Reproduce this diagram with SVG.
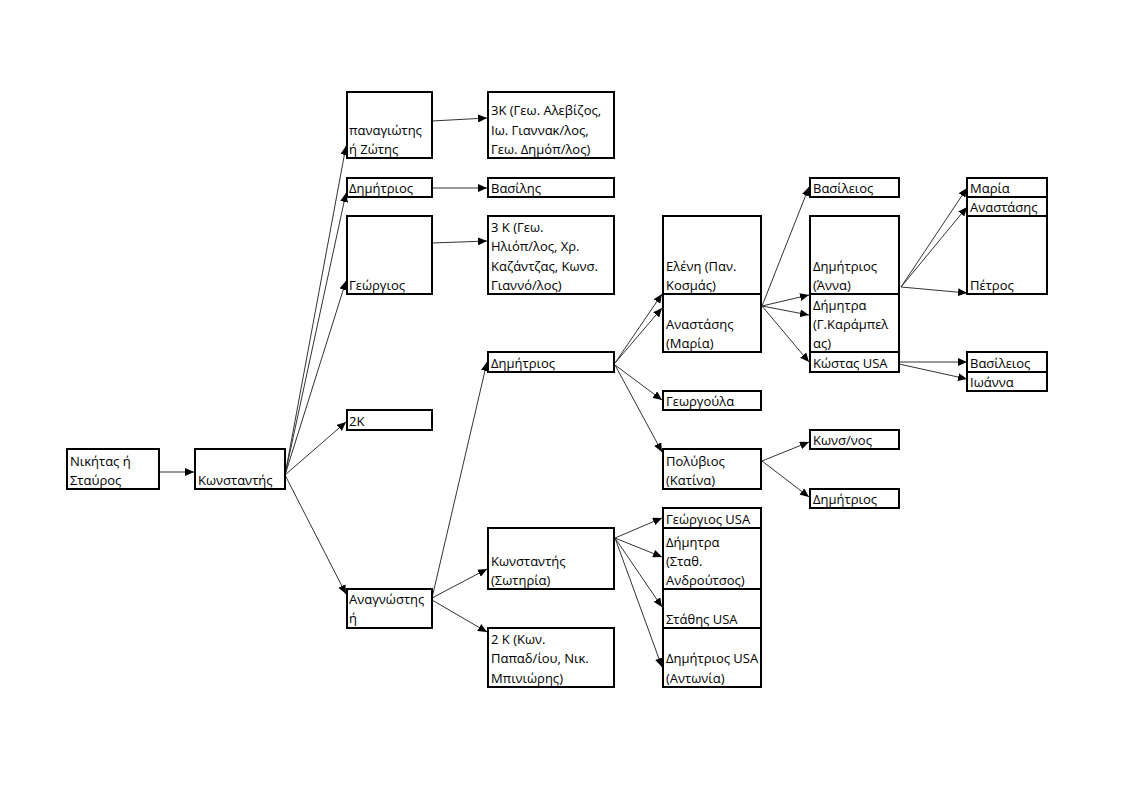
<svg xmlns="http://www.w3.org/2000/svg" width="1122" height="794" viewBox="0 0 1122 794">
<defs>
<marker id="arr" markerUnits="userSpaceOnUse" markerWidth="10" markerHeight="8" refX="9" refY="4" orient="auto">
<path d="M0,0 L9,4 L0,8 z" fill="#000"/>
</marker>
<style>
rect{fill:#fff;stroke:#000;stroke-width:2}
text{font-family:"Open Sans","Noto Sans","DejaVu Sans",sans-serif;font-size:13px;fill:#000}
#connectors line{stroke:#333;stroke-width:1;marker-end:url(#arr)}
</style>
</defs>
<rect x="0" y="0" width="1122" height="794" style="stroke:none"/>
<g id="connectors">
<line x1="157" y1="472" x2="194" y2="472"/>
<line x1="285" y1="475" x2="346" y2="146"/>
<line x1="285" y1="475" x2="346" y2="193"/>
<line x1="285" y1="475" x2="346" y2="281"/>
<line x1="285" y1="475" x2="346" y2="422"/>
<line x1="285" y1="475" x2="346" y2="594"/>
<line x1="432" y1="121" x2="487" y2="118"/>
<line x1="432" y1="188" x2="487" y2="188"/>
<line x1="432" y1="243" x2="487" y2="241"/>
<line x1="432" y1="598" x2="487" y2="362"/>
<line x1="432" y1="598" x2="487" y2="569"/>
<line x1="432" y1="600" x2="487" y2="632"/>
<line x1="615" y1="363" x2="662" y2="294"/>
<line x1="615" y1="363" x2="662" y2="308"/>
<line x1="615" y1="365" x2="662" y2="400"/>
<line x1="615" y1="365" x2="662" y2="452"/>
<line x1="615" y1="538" x2="662" y2="518"/>
<line x1="615" y1="538" x2="662" y2="557"/>
<line x1="615" y1="538" x2="662" y2="607"/>
<line x1="615" y1="538" x2="662" y2="667"/>
<line x1="762" y1="306" x2="809" y2="187"/>
<line x1="762" y1="306" x2="809" y2="295"/>
<line x1="762" y1="306" x2="809" y2="315"/>
<line x1="762" y1="306" x2="809" y2="362"/>
<line x1="762" y1="461" x2="809" y2="442"/>
<line x1="762" y1="461" x2="809" y2="497"/>
<line x1="901" y1="287" x2="967" y2="188"/>
<line x1="901" y1="287" x2="967" y2="207"/>
<line x1="901" y1="287" x2="967" y2="293"/>
<line x1="899" y1="362" x2="967" y2="362"/>
<line x1="899" y1="364" x2="967" y2="379"/>
</g>
<g id="n-nikitas"><rect x="67" y="449" width="92" height="40"/><text x="70" y="466">Νικήτας ή</text><text x="70" y="485">Σταύρος</text></g>
<g id="n-konstantis"><rect x="195" y="449" width="90" height="40"/><text x="198" y="485">Κωνσταντής</text></g>
<g id="n-panagiotis"><rect x="347" y="92" width="85" height="66"/><text x="349" y="135">παναγιώτης</text><text x="349" y="154">ή Ζώτης</text></g>
<g id="n-dimitrios1"><rect x="347" y="178" width="85" height="19"/><text x="349" y="193">Δημήτριος</text></g>
<g id="n-georgios1"><rect x="347" y="216" width="85" height="78"/><text x="349" y="290">Γεώργιος</text></g>
<g id="n-2k"><rect x="347" y="410" width="85" height="20"/><text x="349" y="426">2K</text></g>
<g id="n-anagnostis"><rect x="347" y="589" width="85" height="39"/><text x="349" y="604">Αναγνώστης</text><text x="349" y="623">ή</text></g>
<g id="n-3k-a"><rect x="488" y="92" width="126" height="66"/><text x="491" y="115">3K (Γεω. Αλεβίζος,</text><text x="491" y="135">Ιω. Γιαννακ/λος,</text><text x="491" y="154">Γεω. Δημόπ/λος)</text></g>
<g id="n-vasilis"><rect x="488" y="178" width="126" height="19"/><text x="491" y="193">Βασίλης</text></g>
<g id="n-3k-b"><rect x="488" y="216" width="126" height="78"/><text x="491" y="232">3 K (Γεω.</text><text x="491" y="251">Ηλιόπ/λος, Χρ.</text><text x="491" y="271">Καζάντζας, Κωνσ.</text><text x="491" y="290">Γιαννό/λος)</text></g>
<g id="n-dimitrios2"><rect x="488" y="352" width="126" height="20"/><text x="491" y="368">Δημήτριος</text></g>
<g id="n-konstantis2"><rect x="488" y="528" width="126" height="61"/><text x="491" y="566">Κωνσταντής</text><text x="491" y="585">(Σωτηρία)</text></g>
<g id="n-2k-b"><rect x="488" y="628" width="126" height="59"/><text x="491" y="644">2 K (Κων.</text><text x="491" y="663">Παπαδ/ίου, Νικ.</text><text x="491" y="683">Μπινιώρης)</text></g>
<g id="n-eleni"><rect x="663" y="216" width="98" height="78"/><text x="666" y="271">Ελένη (Παν.</text><text x="666" y="290">Κοσμάς)</text></g>
<g id="n-anastasis1"><rect x="663" y="294" width="98" height="58"/><text x="666" y="329">Αναστάσης</text><text x="666" y="348">(Μαρία)</text></g>
<g id="n-georgoula"><rect x="663" y="391" width="98" height="19"/><text x="666" y="406">Γεωργούλα</text></g>
<g id="n-polyvios"><rect x="663" y="449" width="98" height="40"/><text x="666" y="466">Πολύβιος</text><text x="666" y="485">(Κατίνα)</text></g>
<g id="n-georgios-usa"><rect x="663" y="508" width="98" height="20"/><text x="666" y="524">Γεώργιος USA</text></g>
<g id="n-dimitra1"><rect x="663" y="528" width="98" height="61"/><text x="666" y="547">Δήμητρα</text><text x="666" y="566">(Σταθ.</text><text x="666" y="585">Ανδρούτσος)</text></g>
<g id="n-stathis"><rect x="663" y="589" width="98" height="39"/><text x="666" y="624">Στάθης USA</text></g>
<g id="n-dimitrios-usa"><rect x="663" y="628" width="98" height="59"/><text x="666" y="663">Δημήτριος USA</text><text x="666" y="683">(Αντωνία)</text></g>
<g id="n-vasileios1"><rect x="810" y="178" width="89" height="19"/><text x="813" y="193">Βασίλειος</text></g>
<g id="n-dimitrios-anna"><rect x="810" y="216" width="89" height="78"/><text x="813" y="271">Δημήτριος</text><text x="813" y="290">(Άννα)</text></g>
<g id="n-dimitra2"><rect x="810" y="294" width="89" height="58"/><text x="813" y="310">Δήμητρα</text><text x="813" y="329">(Γ.Καράμπελ</text><text x="813" y="348">ας)</text></g>
<g id="n-kostas"><rect x="810" y="352" width="89" height="20"/><text x="813" y="368">Κώστας USA</text></g>
<g id="n-konsnos"><rect x="810" y="430" width="89" height="19"/><text x="813" y="445">Κωνσ/νος</text></g>
<g id="n-dimitrios3"><rect x="810" y="489" width="89" height="19"/><text x="813" y="504">Δημήτριος</text></g>
<g id="n-maria"><rect x="967" y="178" width="80" height="19"/><text x="970" y="193">Μαρία</text></g>
<g id="n-anastasis2"><rect x="967" y="197" width="80" height="19"/><text x="970" y="212">Αναστάσης</text></g>
<g id="n-petros"><rect x="967" y="216" width="80" height="78"/><text x="970" y="290">Πέτρος</text></g>
<g id="n-vasileios2"><rect x="967" y="352" width="80" height="20"/><text x="970" y="368">Βασίλειος</text></g>
<g id="n-ioanna"><rect x="967" y="372" width="80" height="19"/><text x="970" y="387">Ιωάννα</text></g>
</svg>
